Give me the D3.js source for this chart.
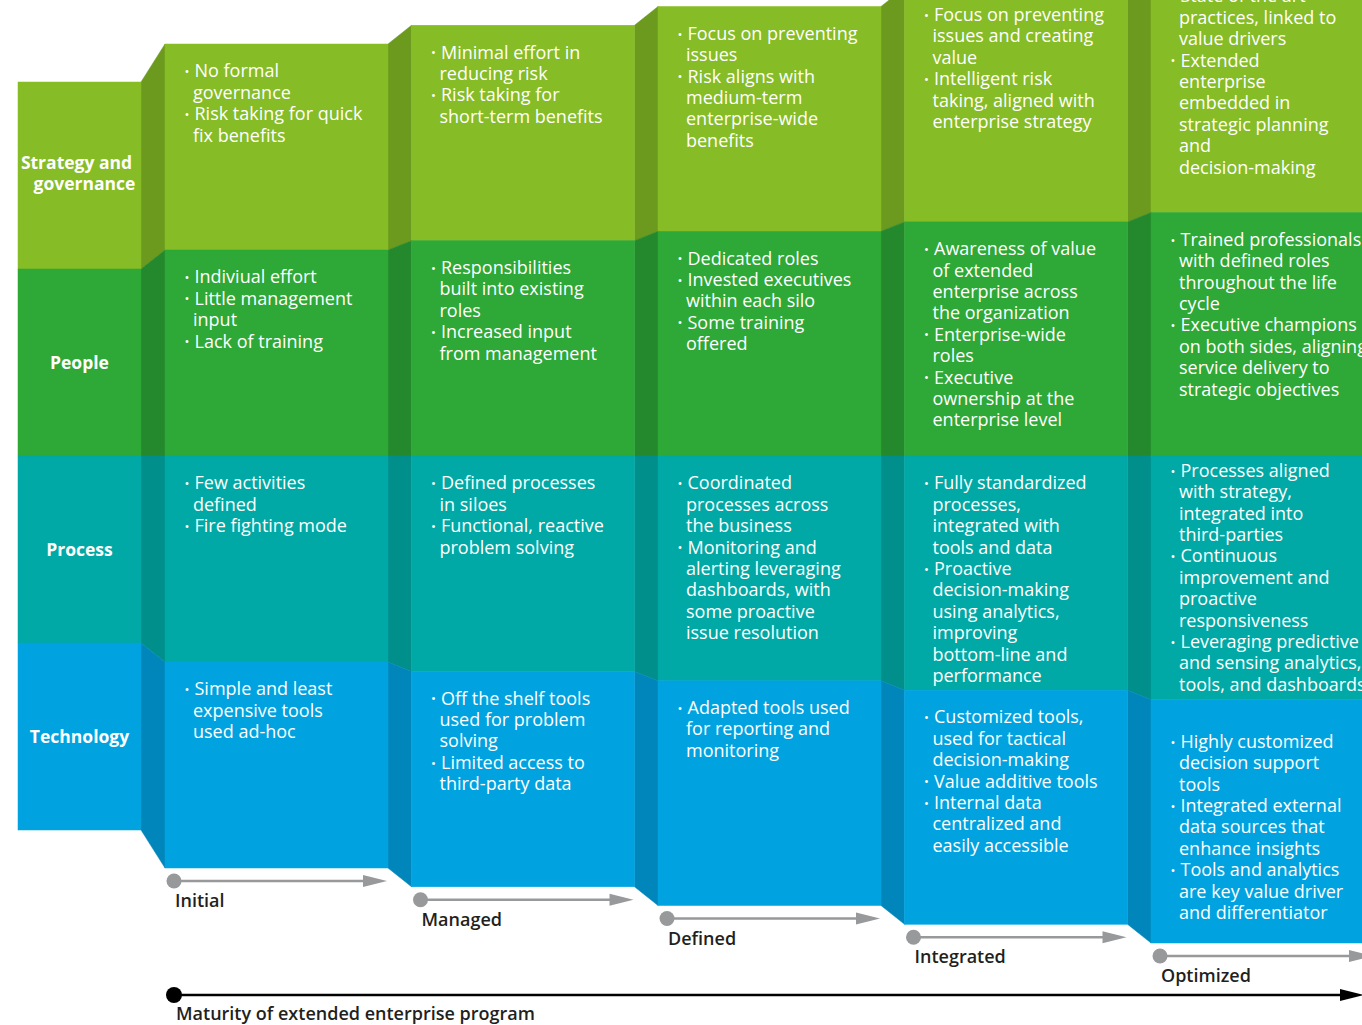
<!DOCTYPE html>
<html>
<head>
<meta charset="utf-8">
<script src="https://cdn.jsdelivr.net/npm/d3@7"></script>
<style>
  html, body { margin: 0; padding: 0; background: #ffffff; }
  svg { display: block; }
  text { font-family: "Open Sans", "Noto Sans", sans-serif; }
</style>
</head>
<body>
<svg id="chart" width="1362" height="1025"></svg>
<script>
// ---------------- DATA ----------------
const stages = ["Initial", "Managed", "Defined", "Integrated", "Optimized"];
const dimensions = ["Strategy and governance", "People", "Process", "Technology"];
const dimensionLabelLines = [["Strategy and", "governance"], ["People"], ["Process"], ["Technology"]];
const axisTitle = "Maturity of extended enterprise program";

// one entry per stage; each entry is a list of bullets; each bullet a list of lines
const strategyText = [
  [["No formal", "governance"], ["Risk taking for quick", "fix benefits"]],
  [["Minimal effort in", "reducing risk"], ["Risk taking for", "short-term benefits"]],
  [["Focus on preventing", "issues"], ["Risk aligns with", "medium-term", "enterprise-wide", "benefits"]],
  [["Focus on preventing", "issues and creating", "value"], ["Intelligent risk", "taking, aligned with", "enterprise strategy"]],
  [["State of the art", "practices, linked to", "value drivers"], ["Extended", "enterprise", "embedded in", "strategic planning", "and", "decision-making"]]
];
const peopleText = [
  [["Indiviual effort"], ["Little management", "input"], ["Lack of training"]],
  [["Responsibilities", "built into existing", "roles"], ["Increased input", "from management"]],
  [["Dedicated roles"], ["Invested executives", "within each silo"], ["Some training", "offered"]],
  [["Awareness of value", "of extended", "enterprise across", "the organization"], ["Enterprise-wide", "roles"], ["Executive", "ownership at the", "enterprise level"]],
  [["Trained professionals", "with defined roles", "throughout the life", "cycle"], ["Executive champions", "on both sides, aligning", "service delivery to", "strategic objectives"]]
];
const processText = [
  [["Few activities", "defined"], ["Fire fighting mode"]],
  [["Defined processes", "in siloes"], ["Functional, reactive", "problem solving"]],
  [["Coordinated", "processes across", "the business"], ["Monitoring and", "alerting leveraging", "dashboards, with", "some proactive", "issue resolution"]],
  [["Fully standardized", "processes,", "integrated with", "tools and data"], ["Proactive", "decision-making", "using analytics,", "improving", "bottom-line and", "performance"]],
  [["Processes aligned", "with strategy,", "integrated into", "third-parties"], ["Continuous", "improvement and", "proactive", "responsiveness"], ["Leveraging predictive", "and sensing analytics,", "tools, and dashboards"]]
];
const technologyText = [
  [["Simple and least", "expensive tools", "used ad-hoc"]],
  [["Off the shelf tools", "used for problem", "solving"], ["Limited access to", "third-party data"]],
  [["Adapted tools used", "for reporting and", "monitoring"]],
  [["Customized tools,", "used for tactical", "decision-making"], ["Value additive tools"], ["Internal data", "centralized and", "easily accessible"]],
  [["Highly customized", "decision support", "tools"], ["Integrated external", "data sources that", "enhance insights"], ["Tools and analytics", "are key value driver", "and differentiator"]]
];
const cellText = [strategyText, peopleText, processText, technologyText];

// ---------------- STYLE / LAYOUT ----------------
const faceColors = ["#86bc25", "#2ea836", "#00a9a5", "#00a3e0"];
const sideColors = ["#6c9a1f", "#24892c", "#008f8b", "#0186bb"];
const arrowGrey = "#97999b";

const svg = d3.select("#chart");
const centerY = 456;
const colW = 223;
const labelX0 = 18, labelX1 = 141, labelRowH = 187;
const xStage = d3.scaleLinear().domain([0, stages.length - 1]).range([165, 1151]);
const rowH = d3.scaleLinear().domain([0, stages.length - 1]).range([206, 243.5]);
const rowIdx = d3.scaleLinear().domain([0, dimensions.length]).range([-2, 2]);
const boundY = (h, k) => centerY + rowIdx(k) * h;
const lineH = 21.4;
// first-line offset from cell top (centre of first text line)
const firstLineOffset = (s, r) => (s === 4 && r === 2) ? 14.5 : (s === 4 && r === 3) ? 42 : 27;

// columns description: label column + stage columns
const columns = [{x0: labelX0, x1: labelX1, h: labelRowH}]
  .concat(stages.map((s, i) => ({x0: xStage(i), x1: xStage(i) + colW, h: rowH(i)})));

// ---------- side (connecting) panels ----------
const sideG = svg.append("g");
for (let c = 1; c < columns.length; c++) {
  const a = columns[c - 1], b = columns[c];
  dimensions.forEach((d, r) => {
    const pts = [
      [a.x1, boundY(a.h, r)], [b.x0, boundY(b.h, r)],
      [b.x0, boundY(b.h, r + 1)], [a.x1, boundY(a.h, r + 1)]
    ];
    sideG.append("polygon")
      .attr("points", pts.map(p => p.join(",")).join(" "))
      .attr("fill", sideColors[r])
      .attr("stroke", sideColors[r]).attr("stroke-width", 0.5);
  });
}

// ---------- faces ----------
const faceG = svg.append("g");
columns.forEach((col, c) => {
  dimensions.forEach((d, r) => {
    const y0 = boundY(col.h, r), y1 = boundY(col.h, r + 1);
    faceG.append("rect")
      .attr("x", col.x0).attr("y", y0)
      .attr("width", col.x1 - col.x0).attr("height", y1 - y0)
      .attr("fill", faceColors[r])
      .attr("stroke", faceColors[r]).attr("stroke-width", 0.5);
  });
});

// ---------- dimension labels ----------
const labelShift = [[-3, 5], [0], [0], [0]];
dimensionLabelLines.forEach((lines, r) => {
  const cy = (boundY(labelRowH, r) + boundY(labelRowH, r + 1)) / 2 - (lines.length > 1 ? 2 : 0);
  const cx = (labelX0 + labelX1) / 2;
  const t = svg.append("text")
    .attr("text-anchor", "middle")
    .attr("font-size", 17.5).attr("font-weight", 700)
    .attr("fill", "#ffffff");
  lines.forEach((ln, i) => {
    t.append("tspan")
      .attr("x", cx + labelShift[r][i])
      .attr("y", cy + (i - (lines.length - 1) / 2) * 21 + 6.3)
      .text(ln);
  });
});

// ---------- cell bullet text ----------
const textG = svg.append("g");
stages.forEach((s, si) => {
  const col = columns[si + 1];
  dimensions.forEach((d, r) => {
    const top = boundY(col.h, r);
    let lineCenter = top + firstLineOffset(si, r);
    cellText[r][si].forEach(bullet => {
      textG.append("text")
        .attr("x", col.x0 + 19.5).attr("y", lineCenter + 5)
        .attr("font-size", 13).attr("fill", "#ffffff")
        .text("•");
      bullet.forEach((ln, li) => {
        textG.append("text")
          .attr("x", col.x0 + (li === 0 ? 29.5 : 28))
          .attr("y", lineCenter + 6.3)
          .attr("font-size", 18).attr("fill", "#ffffff")
          .text(ln);
        lineCenter += lineH;
      });
    });
  });
});

// ---------- stage arrows ----------
const arrowG = svg.append("g");
stages.forEach((s, i) => {
  const col = columns[i + 1];
  const y = boundY(col.h, dimensions.length) + 13;
  const xs = col.x0 + 9, xe = col.x1 - 1;
  arrowG.append("line")
    .attr("x1", xs).attr("x2", xe - 20).attr("y1", y).attr("y2", y)
    .attr("stroke", arrowGrey).attr("stroke-width", 2.5);
  arrowG.append("polygon")
    .attr("points", `${xe - 24},${y - 6} ${xe},${y} ${xe - 24},${y + 6}`)
    .attr("fill", arrowGrey);
  arrowG.append("circle").attr("cx", xs).attr("cy", y).attr("r", 7.5).attr("fill", arrowGrey);
  arrowG.append("text")
    .attr("x", col.x0 + 10).attr("y", y + 26)
    .attr("font-size", 18).attr("font-weight", 600).attr("fill", "#231f20")
    .text(s);
});

// ---------- overall maturity axis ----------
const axY = 995;
const axX0 = xStage(0) + 9;
svg.append("line")
  .attr("x1", axX0).attr("x2", 1345).attr("y1", axY).attr("y2", axY)
  .attr("stroke", "#000").attr("stroke-width", 2.5);
svg.append("polygon")
  .attr("points", `1340,${axY - 6} 1364,${axY} 1340,${axY + 6}`)
  .attr("fill", "#000");
svg.append("circle").attr("cx", axX0).attr("cy", axY).attr("r", 8).attr("fill", "#000");
svg.append("text")
  .attr("x", xStage(0) + 11).attr("y", axY + 25)
  .attr("font-size", 18).attr("font-weight", 600).attr("fill", "#231f20")
  .text(axisTitle);
</script>
</body>
</html>
